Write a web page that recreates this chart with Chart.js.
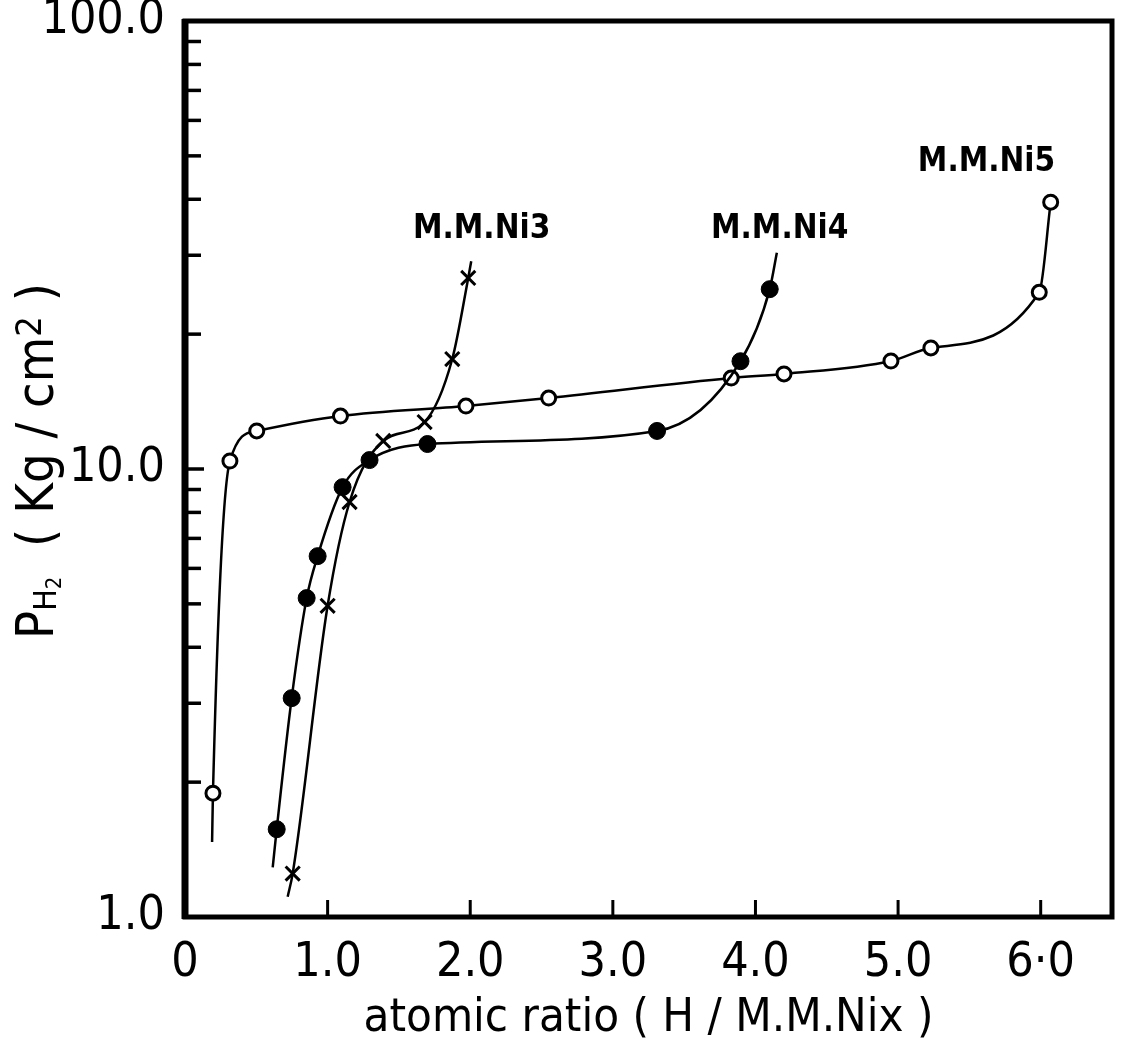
<!DOCTYPE html>
<html>
<head>
<meta charset="utf-8">
<script src="https://cdn.jsdelivr.net/npm/chart.js@4.4.1/dist/chart.umd.min.js"></script>
<style>
  html, body { margin: 0; padding: 0; background: #fff; }
  #wrap { width: 1124px; height: 1051px; }
</style>
</head>
<body>
<div id="wrap"><canvas id="c" width="1124" height="1051"></canvas></div>
<script>
// Hydrogen pressure–composition isotherms for mischmetal-nickel alloys.
// x: atomic ratio H / M.M.Ni_x, y: hydrogen pressure (kg/cm2), log scale.

// M.M.Ni3 (crosses)
const ni3X = [0.755, 1.00, 1.154, 1.39, 1.68, 1.874, 1.986];
const ni3Y = [1.25, 4.95, 8.44, 11.55, 12.73, 17.6, 26.7];
const ni3LineStart = [0.72, 1.11];
const ni3LineEnd = [2.007, 29.1];

// M.M.Ni4 (filled circles)
const ni4X = [0.643, 0.748, 0.853, 0.93, 1.105, 1.294, 1.70, 3.31, 3.895, 4.10];
const ni4Y = [1.57, 3.08, 5.15, 6.39, 9.11, 10.47, 11.37, 12.16, 17.4, 25.2];
const ni4LineStart = [0.615, 1.29];
const ni4LineEnd = [4.15, 30.4];

// M.M.Ni5 (open circles)
const ni5X = [0.196, 0.315, 0.503, 1.09, 1.97, 2.55, 3.83, 4.20, 4.95, 5.23, 5.99, 6.07];
const ni5Y = [1.89, 10.42, 12.16, 13.13, 13.82, 14.4, 15.96, 16.3, 17.42, 18.63, 24.8, 39.4];
const ni5LineStart = [0.19, 1.47];
const ni5LineEnd = null;

// Curve labels and their anchor points (data coordinates)
const seriesNames = ['M.M.Ni3', 'M.M.Ni4', 'M.M.Ni5'];
const seriesLabelX = [2.08, 4.17, 5.62];
const seriesLabelY = [34.2, 34.2, 48.4];

// Axis ticks
const xTickValues = [0, 1, 2, 3, 4, 5, 6];
const xTickLabels = ['0', '1.0', '2.0', '3.0', '4.0', '5.0', '6·0'];
const yMajorValues = [1, 10, 100];
const yMajorLabels = ['1.0', '10.0', '100.0'];

const FONT = '"DejaVu Sans Condensed", "Liberation Sans", "DejaVu Sans", sans-serif';

function buildPoints(xs, ys, start, end) {
  const pts = [];
  if (start) pts.push({ x: start[0], y: start[1], bare: true });
  xs.forEach((x, i) => pts.push({ x: x, y: ys[i], bare: false }));
  if (end) pts.push({ x: end[0], y: end[1], bare: true });
  return pts;
}

function series(label, pts, style) {
  return {
    label: label,
    data: pts,
    showLine: true,
    borderColor: '#000',
    borderWidth: 2.5,
    cubicInterpolationMode: 'monotone',
    pointStyle: style.pointStyle,
    pointBackgroundColor: style.fill,
    pointBorderColor: '#000',
    pointBorderWidth: style.pointBorderWidth,
    pointRadius: ctx => (ctx.raw && ctx.raw.bare) ? 0 : style.radius,
    pointHoverRadius: ctx => (ctx.raw && ctx.raw.bare) ? 0 : style.radius,
  };
}

// Minor tick values on the log axis: 2..9 in each decade
const yMinorValues = [];
for (let d = 1; d < 100; d *= 10) {
  for (let m = 2; m <= 9; m++) yMinorValues.push(m * d);
}

// Frame, inward ticks, y title and curve labels
const decorations = {
  id: 'decorations',
  afterDraw(chart) {
    const { ctx, chartArea: a, scales } = chart;
    const xs = scales.x, ys = scales.y;
    ctx.save();
    ctx.strokeStyle = '#000';
    ctx.lineCap = 'butt';

    // inward ticks on the left axis
    ctx.lineWidth = 3.5;
    yMinorValues.concat([10]).forEach(v => {
      const py = ys.getPixelForValue(v);
      const len = v === 10 ? 19 : 16;
      ctx.beginPath();
      ctx.moveTo(a.left, py);
      ctx.lineTo(a.left + len, py);
      ctx.stroke();
    });
    // inward ticks on the bottom axis
    ctx.lineWidth = 3;
    xTickValues.filter(v => v > 0).forEach(v => {
      const px = xs.getPixelForValue(v);
      ctx.beginPath();
      ctx.moveTo(px, a.bottom);
      ctx.lineTo(px, a.bottom - 17);
      ctx.stroke();
    });

    // thick frame
    ctx.lineWidth = 5;
    ctx.strokeRect(a.left, a.top, a.right - a.left, a.bottom - a.top);
    ctx.lineWidth = 7;
    ctx.beginPath();
    ctx.moveTo(a.left, a.top - 2);
    ctx.lineTo(a.left, a.bottom + 2);
    ctx.stroke();

    // curve labels
    ctx.fillStyle = '#000';
    ctx.textAlign = 'center';
    ctx.textBaseline = 'middle';
    ctx.font = 'bold 33px ' + FONT;
    seriesNames.forEach((n, i) => {
      ctx.fillText(n, xs.getPixelForValue(seriesLabelX[i]), ys.getPixelForValue(seriesLabelY[i]));
    });

    // rotated y-axis title:  P_H2 ( Kg / cm^2 )
    const parts = [
      { t: 'P', size: 52, dy: 0 },
      { t: 'H', size: 32, dy: 3 },
      { t: '2', size: 22, dy: 8 },
      { t: '  ( Kg / cm', size: 52, dy: 0 },
      { t: '2', size: 36, dy: -12 },
      { t: ' )', size: 52, dy: 0 },
    ];
    let total = 0;
    parts.forEach(p => { ctx.font = p.size + 'px ' + FONT; p.w = ctx.measureText(p.t).width; total += p.w; });
    ctx.translate(35, (a.top + a.bottom) / 2 - 8);
    ctx.rotate(-Math.PI / 2);
    ctx.textAlign = 'left';
    ctx.textBaseline = 'alphabetic';
    let cx = -total / 2;
    parts.forEach(p => {
      ctx.font = p.size + 'px ' + FONT;
      ctx.fillText(p.t, cx, 18 + p.dy);
      cx += p.w;
    });
    ctx.restore();
  }
};

new Chart(document.getElementById('c'), {
  type: 'scatter',
  data: {
    datasets: [
      series('M.M.Ni3', buildPoints(ni3X, ni3Y, ni3LineStart, ni3LineEnd),
        { pointStyle: 'crossRot', fill: '#000', radius: 10, pointBorderWidth: 3 }),
      series('M.M.Ni4', buildPoints(ni4X, ni4Y, ni4LineStart, ni4LineEnd),
        { pointStyle: 'circle', fill: '#000', radius: 8.5, pointBorderWidth: 1 }),
      series('M.M.Ni5', buildPoints(ni5X, ni5Y, ni5LineStart, ni5LineEnd),
        { pointStyle: 'circle', fill: '#fff', radius: 7, pointBorderWidth: 3 }),
    ]
  },
  options: {
    responsive: false,
    devicePixelRatio: 1,
    animation: false,
    layout: { padding: { top: 21, right: 12, left: 0, bottom: 0 } },
    plugins: { legend: { display: false }, tooltip: { enabled: false } },
    scales: {
      x: {
        type: 'linear',
        min: 0,
        max: 6.5,
        grid: { display: false },
        border: { display: false },
        afterBuildTicks: s => { s.ticks = xTickValues.map(v => ({ value: v })); },
        afterFit: s => { s.height = 134; s.paddingLeft = 0; s.paddingRight = 0; },
        ticks: {
          autoSkip: false,
          maxRotation: 0,
          padding: 10,
          color: '#000',
          font: { family: FONT, size: 48 },
          callback: v => xTickLabels[xTickValues.indexOf(v)] ?? ''
        },
        title: {
          display: true,
          text: 'atomic ratio ( H / M.M.Nix )',
          color: '#000',
          font: { family: FONT, size: 47 },
          padding: { top: 0, bottom: 4 }
        }
      },
      y: {
        type: 'logarithmic',
        min: 1,
        max: 100,
        grid: { display: false },
        border: { display: false },
        afterBuildTicks: s => { s.ticks = yMajorValues.map(v => ({ value: v, major: true })); },
        afterFit: s => { s.width = 185; s.paddingTop = 0; s.paddingBottom = 0; },
        ticks: {
          autoSkip: false,
          padding: 12,
          color: '#000',
          font: { family: FONT, size: 48 },
          callback: v => yMajorLabels[yMajorValues.indexOf(v)] ?? ''
        }
      }
    }
  },
  plugins: [decorations]
});
</script>
</body>
</html>
